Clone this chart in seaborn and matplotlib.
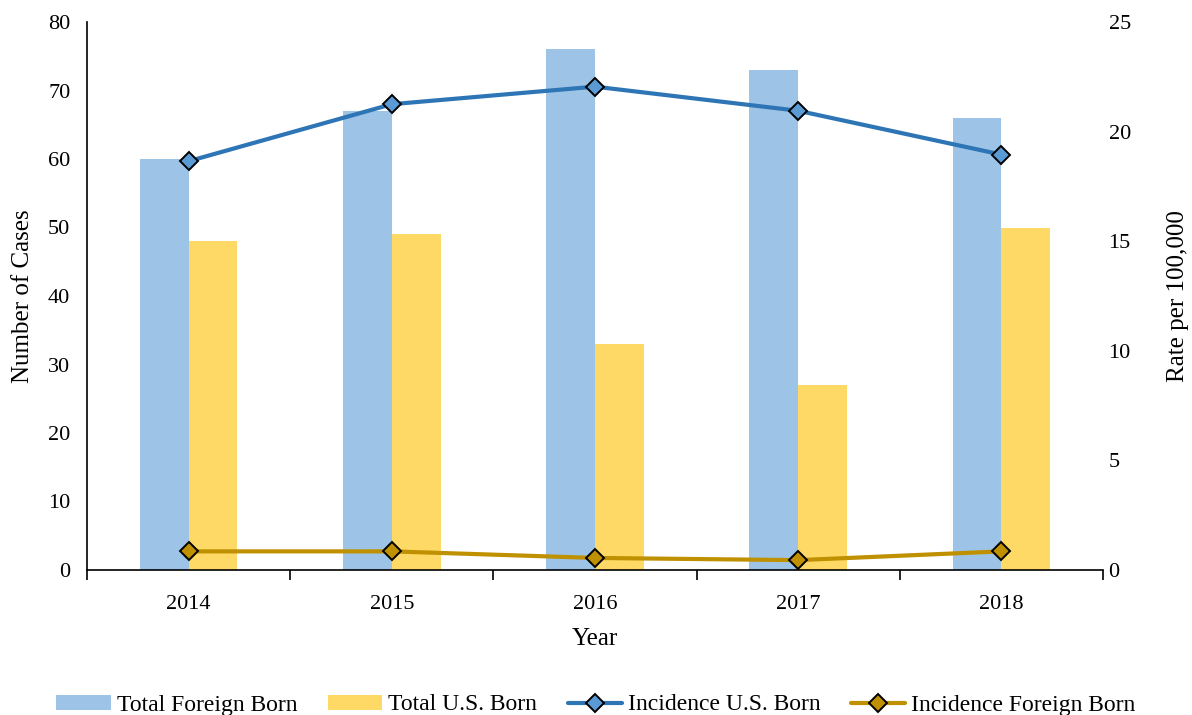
import numpy as np
import pandas as pd
import seaborn as sns
import matplotlib.pyplot as plt
from matplotlib.lines import Line2D
from matplotlib.patches import Patch

# ==============================
#  DATA
# ==============================
years = ["2014", "2015", "2016", "2017", "2018"]
total_foreign_born = [60, 67, 76, 73, 66]
total_us_born = [48, 49, 33, 27, 50]
incidence_us_born = [18.65, 21.25, 22.05, 20.95, 18.95]
incidence_foreign_born = [0.85, 0.85, 0.55, 0.45, 0.85]

bar_labels = ["Total Foreign Born", "Total U.S. Born"]
line_labels = ["Incidence U.S. Born", "Incidence Foreign Born"]

# ==============================
#  STYLE
# ==============================
sns.set_theme(style="white")
plt.rcParams['font.family'] = ['Liberation Serif', 'DejaVu Serif']
plt.rcParams['text.color'] = "black"
plt.rcParams['axes.labelcolor'] = "black"
plt.rcParams['xtick.color'] = "black"
plt.rcParams['ytick.color'] = "black"

c_foreign = "#9DC3E6"
c_us = "#FFD966"
c_line_us = "#2E75B6"
c_mark_us = "#5B9BD5"
c_line_fb = "#BF9000"

df = pd.DataFrame({
    "Year": years * 2,
    "Cases": total_foreign_born + total_us_born,
    "Group": [bar_labels[0]] * len(years) + [bar_labels[1]] * len(years),
})

fig = plt.figure(figsize=(11.92, 7.15), dpi=100)
ax = fig.add_axes([87 / 1192, 1 - 570 / 715, (1103 - 87) / 1192, (570 - 22) / 715])

sns.barplot(data=df, x="Year", y="Cases", hue="Group", order=years,
            hue_order=bar_labels, palette=[c_foreign, c_us],
            width=0.48, gap=0, saturation=1, linewidth=0, ax=ax, legend=False)

ax.set_xlim(-0.5, len(years) - 0.5)
ax.set_ylim(0, 80)
ax.set_yticks(range(0, 81, 10))
ax.tick_params(axis="y", labelsize=16, length=0, pad=12)
ax.tick_params(axis="x", which="major", labelsize=16, length=0, pad=18)
ax.set_xticks(np.arange(-0.5, len(years)), minor=True)
ax.tick_params(axis="x", which="minor", bottom=True, length=7, width=1.2,
               direction="out", color="black")
ax.set_xlabel("Year", fontsize=18, labelpad=10)
ax.set_ylabel("Number of Cases", fontsize=18, labelpad=10)
for s in ["top", "right"]:
    ax.spines[s].set_visible(False)
for s in ["left", "bottom"]:
    ax.spines[s].set_color("black")
    ax.spines[s].set_linewidth(1.2)

# secondary axis for rates
ax2 = ax.twinx()
x_pos = np.arange(len(years))
ax2.plot(x_pos, incidence_us_born, color=c_line_us, lw=3, marker="D", ms=9,
         mfc=c_mark_us, mec="black", mew=1.4, zorder=5)
ax2.plot(x_pos, incidence_foreign_born, color=c_line_fb, lw=3, marker="D", ms=9,
         mfc=c_line_fb, mec="black", mew=1.4, zorder=5)
ax2.set_ylim(0, 25)
ax2.set_yticks(range(0, 26, 5))
ax2.tick_params(axis="y", labelsize=16, length=0, pad=4)
ax2.set_ylabel("Rate per 100,000", fontsize=18, labelpad=26)
for s in ["top", "right", "left", "bottom"]:
    ax2.spines[s].set_visible(False)

# ==============================
#  LEGEND
# ==============================
handles = [
    Patch(facecolor=c_foreign, edgecolor="none"),
    Patch(facecolor=c_us, edgecolor="none"),
    Line2D([], [], color=c_line_us, lw=3, marker="D", ms=9, mfc=c_mark_us, mec="black", mew=1.4),
    Line2D([], [], color=c_line_fb, lw=3, marker="D", ms=9, mfc=c_line_fb, mec="black", mew=1.4),
]
fig.legend(handles, bar_labels + line_labels, loc="center", bbox_to_anchor=(0.5, 1 - 705 / 715),
           ncol=4, frameon=False, fontsize=17, handlelength=2.3, handleheight=0.6,
           columnspacing=1.3, handletextpad=0.25)

fig.savefig("out.png", dpi=100)
